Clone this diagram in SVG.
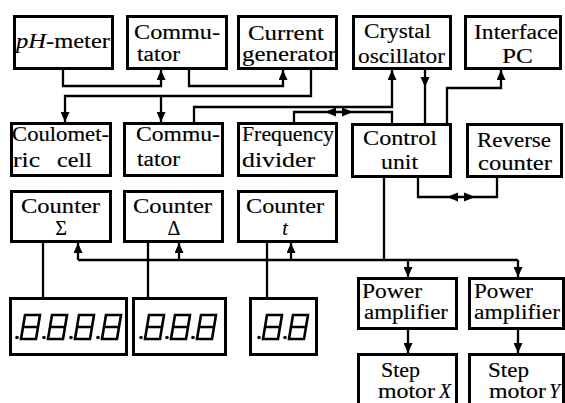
<svg xmlns="http://www.w3.org/2000/svg" xmlns:xlink="http://www.w3.org/1999/xlink" width="565" height="403" viewBox="0 0 565 403">
  <style>
    .box { fill: #fff; stroke: #000; stroke-width: 3; }
    .lbl { font-family: 'Liberation Serif', 'Times New Roman', serif; font-size: 20px; fill: #000; stroke: #000; stroke-width: 0.15; }
    .it { font-style: italic; }
    .wire { fill: none; stroke: #000; stroke-width: 2.3; stroke-linejoin: miter; }
    .arr { marker-end: url(#head); }
    .seg { fill: none; stroke: #000; stroke-width: 2.6; stroke-linejoin: miter; }
  </style>
  <defs>
    <marker id="head" markerUnits="userSpaceOnUse" markerWidth="10" markerHeight="9" refX="10" refY="4.5" orient="auto">
      <path d="M0,0 L10,4.5 L0,9 Z" fill="#000"/>
    </marker>
    <!-- one seven-segment digit with its decimal point -->
    <g id="digit">
      <path class="seg" d="M4,0 H19 L15,24 H0 Z M2,12 H17"/>
      <circle cx="-4" cy="22.5" r="1.8" fill="#000"/>
    </g>
    <!-- back-to-back arrowheads, centred on 0,0 -->
    <g id="dbl">
      <path d="M-14,0 L-3,-4.5 L-3,4.5 Z M14,0 L3,-4.5 L3,4.5 Z" fill="#000"/>
    </g>
  </defs>
  <rect width="565" height="403" fill="#fff"/>

  <g id="connectors">
    <path class="wire arr" d="M63,70 V86 H161 V70"/>
    <path class="wire arr" d="M189,70 V86 H283 V70"/>
    <path class="wire arr" d="M311,70 V96 H65 V122"/>
    <path class="wire arr" d="M161,96 V122"/>
    <path class="wire arr" d="M194,122 V107 H392 V70"/>
    <path class="wire" d="M425,70 V123"/>
    <path d="M425,87 L420.5,77 L429.5,77 Z" fill="#000"/>
    <path class="wire arr" d="M447,123 V88 H501 V70"/>
    <path class="wire" d="M294,122 V112 H392 V123"/>
    <use xlink:href="#dbl" x="339" y="112"/>
    <path class="wire" d="M418,176 V197 H497 V176"/>
    <use xlink:href="#dbl" x="461" y="197"/>
    <path class="wire" d="M384,176 V260"/>
    <path class="wire" d="M78,260 H518"/>
    <path class="wire arr" d="M78,260 V243"/>
    <path class="wire arr" d="M179,260 V243"/>
    <path class="wire arr" d="M291,260 V243"/>
    <path class="wire arr" d="M408,260 V277"/>
    <path class="wire arr" d="M518,260 V277"/>
    <path class="wire" d="M43,243 V297"/>
    <path class="wire" d="M148,243 V297"/>
    <path class="wire" d="M267,243 V297"/>
    <path class="wire arr" d="M408,330 V353"/>
    <path class="wire arr" d="M518,330 V353"/>
  </g>

  <g id="ph-meter">
    <rect class="box" x="14.5" y="16.5" width="98" height="52"/>
    <text class="lbl" x="16" y="48" textLength="94" lengthAdjust="spacingAndGlyphs"><tspan class="it">pH</tspan>-meter</text>
  </g>
  <g id="commutator-1">
    <rect class="box" x="127.5" y="16.5" width="99" height="52"/>
    <text class="lbl" x="134" y="39" textLength="86" lengthAdjust="spacingAndGlyphs">Commu-</text>
    <text class="lbl" x="137" y="61" textLength="43" lengthAdjust="spacingAndGlyphs">tator</text>
  </g>
  <g id="current-generator">
    <rect class="box" x="238.5" y="16.5" width="98" height="52"/>
    <text class="lbl" x="248" y="40" textLength="76" lengthAdjust="spacingAndGlyphs">Current</text>
    <text class="lbl" x="242" y="61" textLength="94" lengthAdjust="spacingAndGlyphs">generator</text>
  </g>
  <g id="crystal-oscillator">
    <rect class="box" x="353.5" y="16.5" width="97" height="52"/>
    <text class="lbl" x="364" y="38" textLength="67" lengthAdjust="spacingAndGlyphs">Crystal</text>
    <text class="lbl" x="358" y="63" textLength="87" lengthAdjust="spacingAndGlyphs">oscillator</text>
  </g>
  <g id="interface-pc">
    <rect class="box" x="465.5" y="16.5" width="95" height="52"/>
    <text class="lbl" x="474" y="39" textLength="84" lengthAdjust="spacingAndGlyphs">Interface</text>
    <text class="lbl" x="502" y="63" textLength="31" lengthAdjust="spacingAndGlyphs">PC</text>
  </g>

  <g id="coulometric-cell">
    <rect class="box" x="11.5" y="123.5" width="99" height="52"/>
    <text class="lbl" x="12" y="141" textLength="97" lengthAdjust="spacingAndGlyphs">Coulomet-</text>
    <text class="lbl" y="167"><tspan x="13" textLength="27" lengthAdjust="spacingAndGlyphs">ric</tspan><tspan x="57" textLength="35" lengthAdjust="spacingAndGlyphs">cell</tspan></text>
  </g>
  <g id="commutator-2">
    <rect class="box" x="124.5" y="123.5" width="98" height="52"/>
    <text class="lbl" x="136" y="141" textLength="84" lengthAdjust="spacingAndGlyphs">Commu-</text>
    <text class="lbl" x="137" y="166" textLength="43" lengthAdjust="spacingAndGlyphs">tator</text>
  </g>
  <g id="frequency-divider">
    <rect class="box" x="238.5" y="123.5" width="98" height="52"/>
    <text class="lbl" x="242" y="141" textLength="92" lengthAdjust="spacingAndGlyphs">Frequency</text>
    <text class="lbl" x="242" y="167" textLength="73" lengthAdjust="spacingAndGlyphs">divider</text>
  </g>
  <g id="control-unit">
    <rect class="box" x="352.5" y="124.5" width="98" height="52"/>
    <text class="lbl" x="363" y="145" textLength="74" lengthAdjust="spacingAndGlyphs">Control</text>
    <text class="lbl" x="381" y="169" textLength="37" lengthAdjust="spacingAndGlyphs">unit</text>
  </g>
  <g id="reverse-counter">
    <rect class="box" x="467.5" y="124.5" width="94" height="52"/>
    <text class="lbl" x="477" y="147" textLength="74" lengthAdjust="spacingAndGlyphs">Reverse</text>
    <text class="lbl" x="478" y="170" textLength="74" lengthAdjust="spacingAndGlyphs">counter</text>
  </g>

  <g id="counter-sigma">
    <rect class="box" x="11.5" y="191.5" width="99" height="50"/>
    <text class="lbl" x="21" y="213" textLength="79" lengthAdjust="spacingAndGlyphs">Counter</text>
    <text class="lbl" x="61" y="235" text-anchor="middle">Σ</text>
  </g>
  <g id="counter-delta">
    <rect class="box" x="124.5" y="191.5" width="98" height="50"/>
    <text class="lbl" x="133" y="213" textLength="79" lengthAdjust="spacingAndGlyphs">Counter</text>
    <text class="lbl" x="174" y="235" text-anchor="middle">Δ</text>
  </g>
  <g id="counter-t">
    <rect class="box" x="238.5" y="191.5" width="98" height="50"/>
    <text class="lbl" x="246" y="213" textLength="78" lengthAdjust="spacingAndGlyphs">Counter</text>
    <text class="lbl it" x="285" y="235" text-anchor="middle">t</text>
  </g>

  <g id="display-sigma">
    <rect class="box" x="10.5" y="298.5" width="116" height="56"/>
    <use xlink:href="#digit" x="21" y="315"/>
    <use xlink:href="#digit" x="48" y="315"/>
    <use xlink:href="#digit" x="75" y="315"/>
    <use xlink:href="#digit" x="102" y="315"/>
  </g>
  <g id="display-delta">
    <rect class="box" x="133.5" y="298.5" width="92" height="56"/>
    <use xlink:href="#digit" x="145" y="315"/>
    <use xlink:href="#digit" x="171" y="315"/>
    <use xlink:href="#digit" x="197" y="315"/>
  </g>
  <g id="display-t">
    <rect class="box" x="250.5" y="298.5" width="66" height="56"/>
    <use xlink:href="#digit" x="263" y="315"/>
    <use xlink:href="#digit" x="289" y="315"/>
  </g>

  <g id="power-amplifier-x">
    <rect class="box" x="358.5" y="278.5" width="98" height="50"/>
    <text class="lbl" x="362" y="298" textLength="60" lengthAdjust="spacingAndGlyphs">Power</text>
    <text class="lbl" x="364" y="319" textLength="84" lengthAdjust="spacingAndGlyphs">amplifier</text>
  </g>
  <g id="power-amplifier-y">
    <rect class="box" x="469.5" y="278.5" width="94" height="50"/>
    <text class="lbl" x="474" y="298" textLength="59" lengthAdjust="spacingAndGlyphs">Power</text>
    <text class="lbl" x="474" y="319" textLength="86" lengthAdjust="spacingAndGlyphs">amplifier</text>
  </g>
  <g id="step-motor-x">
    <rect class="box" x="358.5" y="354.5" width="98" height="60"/>
    <text class="lbl" x="381" y="377" textLength="39" lengthAdjust="spacingAndGlyphs">Step</text>
    <text class="lbl" x="378" y="398" textLength="57" lengthAdjust="spacingAndGlyphs">motor</text>
    <text class="lbl it" x="439" y="398">X</text>
  </g>
  <g id="step-motor-y">
    <rect class="box" x="469.5" y="354.5" width="94" height="60"/>
    <text class="lbl" x="488" y="377" textLength="41" lengthAdjust="spacingAndGlyphs">Step</text>
    <text class="lbl" x="489" y="398" textLength="57" lengthAdjust="spacingAndGlyphs">motor</text>
    <text class="lbl it" x="549" y="398">Y</text>
  </g>
</svg>
